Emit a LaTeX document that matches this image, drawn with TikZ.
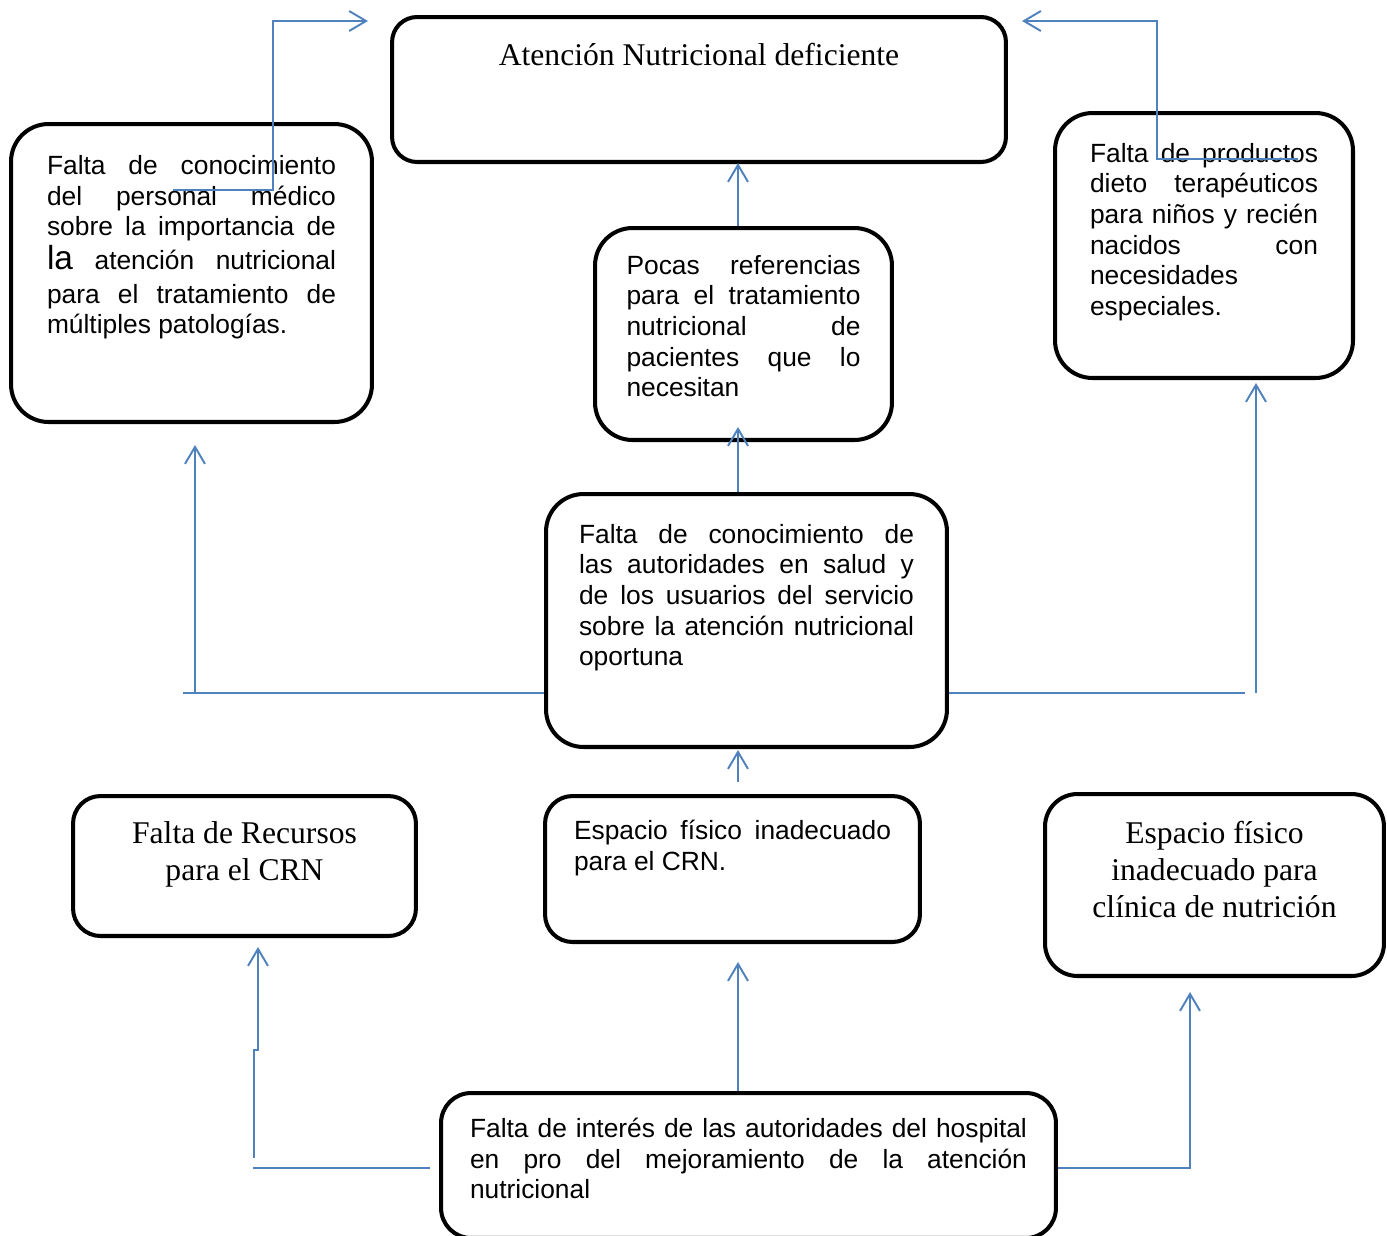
\documentclass[tikz,border=0pt]{standalone}
\usepackage{fontspec}
\setmainfont{Liberation Serif}
\setsansfont{Liberation Sans}
\usetikzlibrary{arrows.meta, positioning, calc}
\definecolor{lineblue}{RGB}{79, 129, 189}
\tikzset{
  flowline/.style={line width=1.1pt, lineblue},
  flowarrow/.style={-{Straight Barb[length=3.4mm, width=4mm]}, line width=1.1pt, lineblue},
  causebox/.style={draw, line width=2.3pt, rounded corners=0.75cm, inner sep=0pt},
  sanstext/.style={font=\sffamily\fontsize{15}{17.45}\selectfont},
  seriftext/.style={font=\rmfamily\fontsize{18}{21}\selectfont}
}
\newcommand{\boxtext}[3]{\parbox[c][#2][t]{#1}{#3}}

\begin{document}
\begin{tikzpicture}[x=0.02cm, y=-0.02cm]
    \useasboundingbox (0,0) rectangle (1387,1235);

    % boxes
    \node (atencion) [causebox, seriftext, rounded corners=0.5cm, minimum width=12.28cm, minimum height=2.9cm] at (699,89.5)
        {\boxtext{11.2cm}{1.84cm}{\centering Atención Nutricional deficiente}};
    \node (personal) [causebox, sanstext, minimum width=7.22cm, minimum height=5.96cm] at (191.5,273)
        {\boxtext{5.78cm}{4.7cm}{Falta de conocimiento\linebreak del personal médico\linebreak sobre la importancia de\linebreak \rule[-7.2pt]{0pt}{22.2pt}{\fontsize{19}{17.45}\selectfont la} atención nutricional\linebreak para el tratamiento de\linebreak múltiples patologías.}};
    \node (productos) [causebox, sanstext, minimum width=5.96cm, minimum height=5.3cm] at (1204,245.5)
        {\boxtext{4.56cm}{4.1cm}{Falta de productos\linebreak dieto terapéuticos\linebreak para niños y recién\linebreak nacidos con\linebreak necesidades\\ especiales.}};
    \node (referencias) [causebox, sanstext, minimum width=5.94cm, minimum height=4.24cm] at (743.5,334)
        {\boxtext{4.68cm}{3.16cm}{Pocas referencias\linebreak para el tratamiento\linebreak nutricional de\linebreak pacientes que lo\linebreak necesitan}};
    \node (autoridades) [causebox, sanstext, minimum width=8.02cm, minimum height=5.06cm] at (746.5,620.5)
        {\boxtext{6.7cm}{3.86cm}{Falta de conocimiento de\linebreak las autoridades en salud y\linebreak de los usuarios del servicio\linebreak sobre la atención nutricional\linebreak oportuna}};
    \node (recursos) [causebox, seriftext, rounded corners=0.55cm, minimum width=6.86cm, minimum height=2.8cm] at (244.5,866)
        {\boxtext{6cm}{1.76cm}{\centering Falta de Recursos\\ para el CRN}};
    \node (espacio) [causebox, sanstext, rounded corners=0.55cm, minimum width=7.5cm, minimum height=2.92cm] at (732.5,869)
        {\boxtext{6.34cm}{1.96cm}{Espacio físico inadecuado\linebreak para el CRN.}};
    \node (clinica) [causebox, seriftext, rounded corners=0.65cm, minimum width=6.78cm, minimum height=3.64cm] at (1214.5,885)
        {\boxtext{6.2cm}{2.54cm}{\centering Espacio físico\\ inadecuado para\\ clínica de nutrición}};
    \node (interes) [causebox, sanstext, rounded corners=0.6cm, minimum width=12.3cm, minimum height=2.9cm] at (748.5,1165.5)
        {\boxtext{11.14cm}{1.9cm}{Falta de interés de las autoridades del hospital\linebreak en pro del mejoramiento de la atención\linebreak nutricional}};

    % free ends of the connectors
    \coordinate (tipEspacio) at (738,962);
    \coordinate (tipAutor) at (738,750);
    \coordinate (startAutor) at (738,782);
    \coordinate (tipRef) at (738,427);
    \coordinate (tipAten) at (738,163);
    \coordinate (leftEnd) at (183,693);
    \coordinate (leftUp) at (195,693);
    \coordinate (tipPers) at (195,445);
    \coordinate (rightEnd) at (1245,693);
    \coordinate (rightUp) at (1256,693);
    \coordinate (tipProd) at (1256,383);
    \coordinate (recEnd) at (253,1168);
    \coordinate (recStart) at (430,1168);
    \coordinate (tipRec) at (258,947);
    \coordinate (cliCorner) at (1190,1168);
    \coordinate (tipCli) at (1190,992);
    \coordinate (persStart) at (173,190);
    \coordinate (tipAtenL) at (368,21);
    \coordinate (prodStart) at (1298,159);
    \coordinate (tipAtenR) at (1022,21);

    % connectors
    \draw[flowarrow] (interes.north -| tipEspacio) -- (tipEspacio);
    \draw[flowarrow] (startAutor) -- (tipAutor);
    \draw[flowarrow] (autoridades.north -| tipRef) -- (tipRef);
    \draw[flowarrow] (referencias.north -| tipAten) -- (tipAten);

    \draw[flowline] (autoridades.west |- leftEnd) -- (leftEnd);
    \draw[flowarrow] (leftUp) -- (tipPers);
    \draw[flowline] (autoridades.east |- rightEnd) -- (rightEnd);
    \draw[flowarrow] (rightUp) -- (tipProd);

    \draw[flowline] (recStart) -- (recEnd);
    \draw[flowarrow] (254,1158) -- (254,1050) -- (258,1050) -- (tipRec);
    \draw[flowarrow] (interes.east |- cliCorner) -- (cliCorner) -- (tipCli);

    \draw[flowarrow] (persStart) -- (273,190) -- (273,21) -- (tipAtenL);
    \draw[flowarrow] (prodStart) -- (1157,159) -- (1157,21) -- (tipAtenR);
\end{tikzpicture}
\end{document}
